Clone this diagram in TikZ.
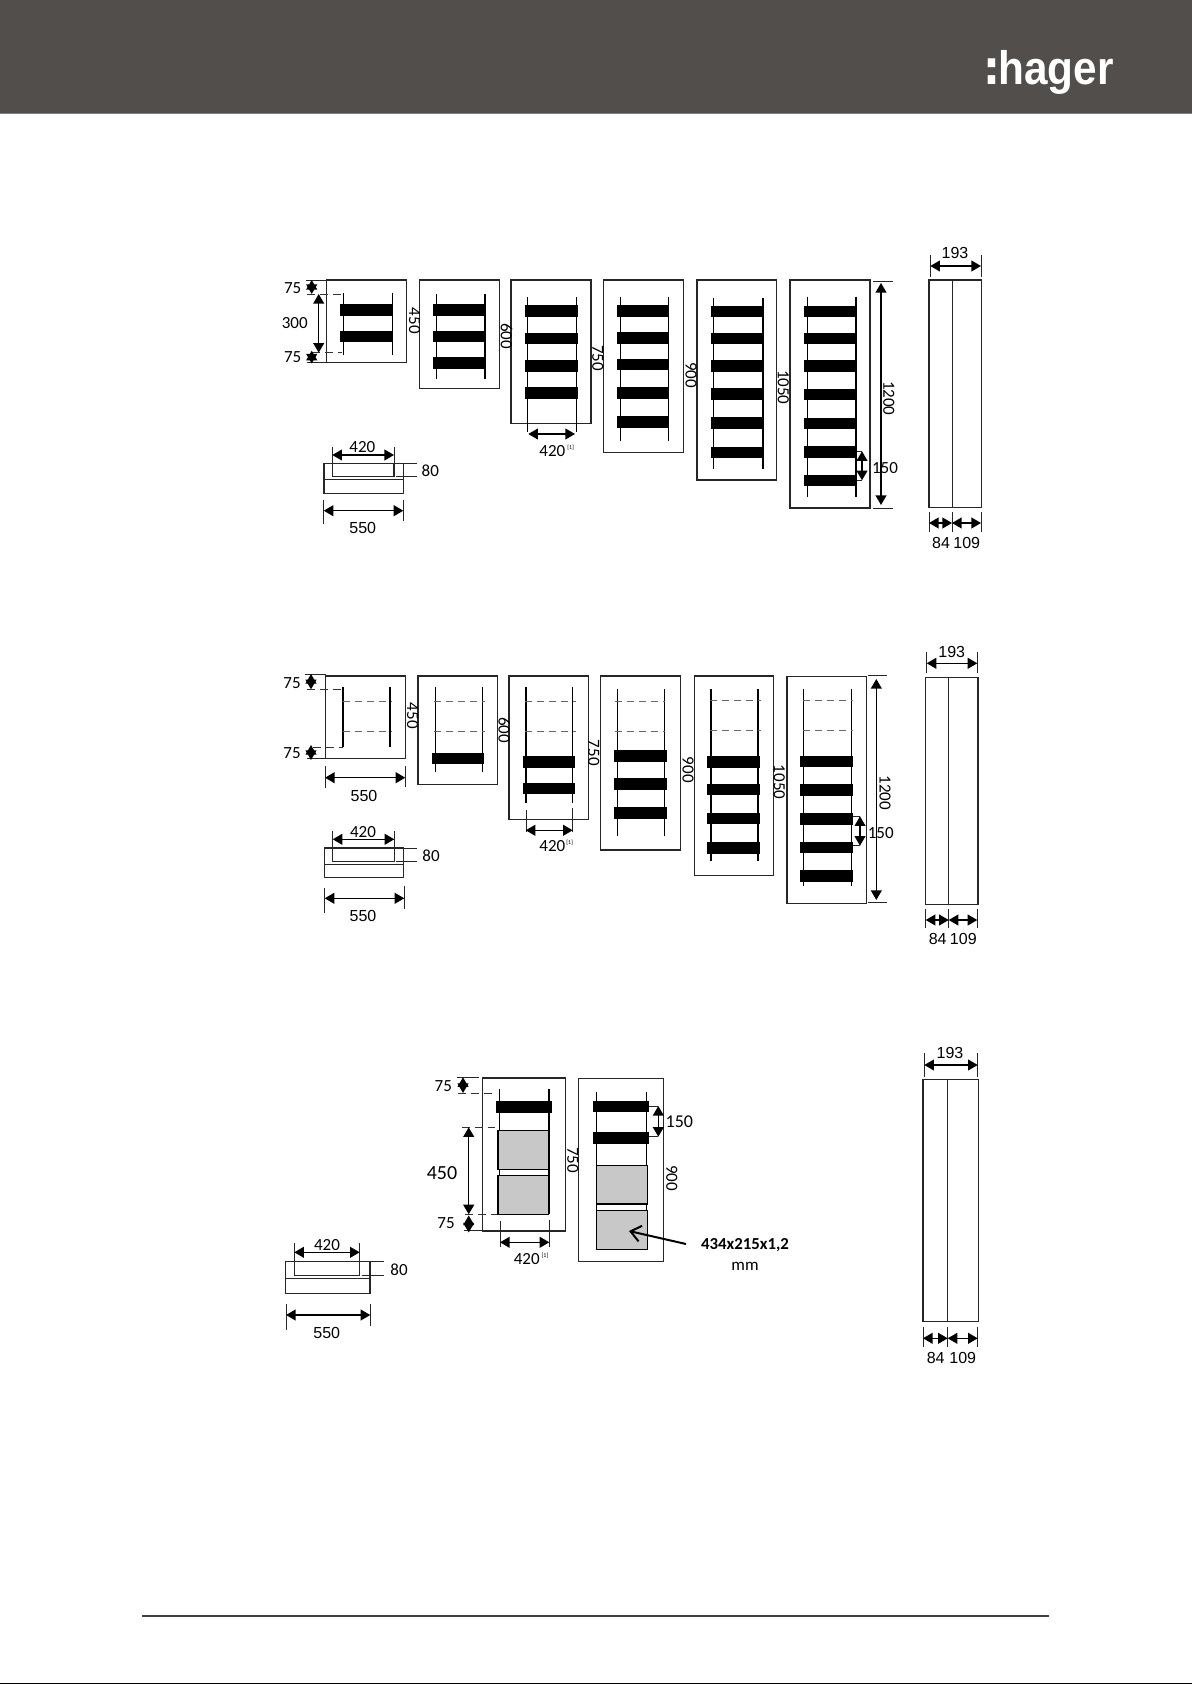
\documentclass[tikz,border=0pt]{standalone}
\usepackage{fontspec}
\setmainfont{Carlito}
\newfontfamily\arialfont{Liberation Sans}
\newfontfamily\logofont{Liberation Sans}
\newfontfamily\logocolon{DejaVu Sans}
\usetikzlibrary{arrows.meta}
\definecolor{headgrey}{HTML}{524E4C}
\definecolor{panelgrey}{HTML}{C8C8C8}
\tikzset{
  line/.style={draw=black!85,line width=0.55pt},
  rail/.style={draw=black,line width=0.6pt},
  guide/.style={draw=black!80,line width=0.4pt,dash pattern=on 4pt off 2.5pt},
  hidden/.style={draw=black!60,line width=0.4pt,dash pattern=on 3.5pt off 2.5pt},
  ext/.style={draw=black!85,line width=0.45pt},
  dima/.style={draw=black,line width=0.7pt,{Triangle[length=4.8pt,width=5.4pt]}-{Triangle[length=4.8pt,width=5.4pt]}},
  panel/.style={draw=black,line width=0.6pt,fill=panelgrey},
  lab/.style={inner sep=0pt,font=\fontsize{8.5}{9}\selectfont},
  labb/.style={inner sep=0pt,font=\arialfont\fontsize{8}{9}\selectfont},
  rot/.style={lab,rotate=-90},
  note/.style={inner sep=0pt,font=\fontsize{3}{3.5}\selectfont},
}
% bars: x1, x2, list of top edges
\newcommand\barsRow[3]{\foreach \yy in {#3}{\fill[black] (#1,\yy) rectangle (#2,\yy+11.7);}}
% section view: outer x1,x2, y1,y_mid,y2, inner x1,x2,y_in, 80 end
\newcommand\sectionView[9]{%
  \draw[line] (#1,#3) rectangle (#2,#5);
  \draw[line] (#1,#4) -- (#2,#4);
  \draw[line] (#6,#3) -- (#6,#8) -- (#7,#8) -- (#7,#3);
  \draw[ext] (#2,#3) -- (#9,#3);
  \draw[ext] (#7+2,#8) -- (#9,#8);
}
% box with two rails: x1,x2,y1,y2, rail xl,xr,yt,yb
\newcommand\cabinet[8]{%
  \draw[line] (#1,#3) rectangle (#2,#4);
  \draw[rail] (#5,#7) -- (#5,#8);
  \draw[rail] (#6,#7) -- (#6,#8);
}
% side view: x1,xm,x2,y1,y2
\newcommand\sideView[5]{%
  \draw[line] (#1,#4) rectangle (#3,#5);
  \draw[line] (#2,#4) -- (#2,#5);
}
\begin{document}
\begin{tikzpicture}[x=0.5pt,y=-0.5pt]
\useasboundingbox (0,0) rectangle (1192,1684);
\fill[white] (0,0) rectangle (1192,1684);
% header
\fill[headgrey] (0,0) rectangle (1192,113.2);
\fill[black!50] (0,113.2) rectangle (1192,114);
\node[anchor=base west,inner sep=0pt,text=white,xscale=0.9,transform shape] (logo) at (983,84.3)
  {\fontsize{23.5}{26}\selectfont{\logocolon\bfseries :}\hspace{-0.04em}{\logofont\bfseries hager}};
% footer
\fill[black!75] (142,1614.8) rectangle (1049,1616.8);
\fill[black] (0,1683) rectangle (1192,1684);

%% ---------- ROW 1 ----------
\cabinet{326.7}{406.7}{280}{362.7}{343.7}{392.7}{292.7}{355}
\barsRow{340}{393.3}{304.3,330.7}
\cabinet{419.3}{499.3}{280}{388.3}{436.7}{485}{294}{379.3}
\barsRow{433.3}{486}{304.3,330.7,357}
\cabinet{511}{591}{280}{423.7}{527.3}{576.7}{297.3}{432}
\barsRow{525}{577.7}{305.3,332.7,360,387}
\cabinet{603.3}{683.3}{280}{452.3}{620.3}{668.7}{296.7}{440.7}
\barsRow{616.7}{669.3}{305.3,332,358.7,387.3,416.3}
\cabinet{697}{776.7}{280}{480}{713.7}{763}{298}{469.3}
\barsRow{710.7}{763.7}{305.7,332.7,360.3,388,417,446.7}
\cabinet{790}{870}{280}{508}{807.3}{856}{296.7}{497.3}
\barsRow{803.7}{856.7}{305.7,332.7,360,388.7,417.7,446,474.7}
% left dims
\draw[ext] (306,280) -- (326.7,280);
\draw[ext] (307,362.7) -- (328,362.7);
\draw[guide] (307,294) -- (342,294);
\draw[guide] (312,352.7) -- (342,352.7);
\draw[dima] (311.7,280) -- (311.7,294);
\draw[dima] (318.7,294) -- (318.7,352.7);
\draw[dima] (311.7,350.7) -- (311.7,363.5);
\node[lab] (a1) at (292.7,288.3) {75};
\node[lab] (a2) at (294.7,322.7) {300};
\node[lab] (a3) at (292.7,356.7) {75};
\node[rot] (a4) at (414.5,320.7) {450};
\node[rot] (a5) at (506.5,336) {600};
\node[rot] (a6) at (597.7,358.3) {750};
\node[rot] (a7) at (691,375) {900};
\node[rot] (a8) at (783.3,387.3) {1050};
\node[rot] (a9) at (888.7,398.3) {1200};
% 420 below box 3
\draw[dima] (528.3,434) -- (575,434);
\node[lab] (a10) at (552.3,451.3) {420};
\node[note] (a11) at (570.7,447.7) {[1]};
% 150
\draw[ext] (856.7,451.3) -- (862,451.3);
\draw[ext] (856.7,480.3) -- (862,480.3);
\draw[dima] (862,451.3) -- (862,480.3);
\node[lab] (a12) at (885,468) {150};
% 1200
\draw[ext] (872.7,281) -- (892.7,281);
\draw[ext] (872.7,508) -- (892.7,508);
\draw[dima] (881,283) -- (881,505);
% side
\sideView{929}{952.3}{981.3}{280}{507.3}
\draw[ext] (930.3,255) -- (930.3,276.7);
\draw[ext] (981,255) -- (981,276.7);
\draw[dima] (930.3,266) -- (981,266);
\node[labb] (a13) at (955,253.3) {193};
\foreach \xx in {929,952,981}{\draw[ext] (\xx,512.3) -- (\xx,531.7);}
\draw[dima] (929,523) -- (952,523);
\draw[dima] (952,523) -- (981,523);
\node[labb] (a14) at (941,542.7) {84};
\node[labb] (a15) at (966.7,542.7) {109};
% section
\sectionView{324}{403.7}{463.3}{479.3}{493.3}{332.3}{394}{476.7}{417.3}
\draw[ext] (332.3,446.7) -- (332.3,463.3);
\draw[ext] (394,446.7) -- (394,463.3);
\draw[dima] (332.3,455) -- (394,455);
\node[lab] (a16) at (362.3,447.3) {420};
\node[lab] (a17) at (430.3,471) {80};
\draw[ext] (323.7,500) -- (323.7,524);
\draw[ext] (403.3,500) -- (403.3,520.5);
\draw[dima] (323.7,510.7) -- (403.3,510.7);
\node[labb] (a18) at (362.7,528.3) {550};

%% ---------- ROW 2 ----------
\cabinet{325.7}{405.3}{676}{758.3}{343}{390}{686.7}{747.3}
\draw[hidden] (343.3,701.7) -- (391.7,701.7);
\draw[hidden] (343.3,731.3) -- (391.7,731.3);
\cabinet{418}{497.7}{676}{784.3}{435.3}{482.3}{686.7}{771.7}
\draw[hidden] (434,701.7) -- (485,701.7);
\draw[hidden] (434,731.3) -- (485,731.3);
\barsRow{431.7}{484.3}{752.7}
\cabinet{509}{588.3}{676}{819.7}{526}{572.7}{686.7}{803}
\draw[hidden] (525,701.7) -- (575.7,701.7);
\draw[hidden] (525,731.3) -- (575.7,731.3);
\barsRow{522.7}{575.3}{756,782.7}
\draw[ext] (526,810) -- (526,832);
\draw[ext] (572.7,808) -- (572.7,832);
\cabinet{600.3}{680.3}{676}{850}{617.7}{664.7}{689.3}{835.7}
\draw[hidden] (615,701.7) -- (665,701.7);
\draw[hidden] (615,731.3) -- (665,731.3);
\barsRow{614}{666.7}{750,778.3,807.3}
\cabinet{694.3}{773.7}{676}{875.7}{711}{758}{689.3}{861.3}
\draw[hidden] (710,700.7) -- (760.7,700.7);
\draw[hidden] (710,730.3) -- (760.7,730.3);
\barsRow{707}{760.3}{756,783.7,812.7,842}
\cabinet{787}{866.3}{676.3}{903.3}{803.7}{851.7}{689.3}{886}
\draw[hidden] (803.3,700.3) -- (853.3,700.3);
\draw[hidden] (803.3,730) -- (853.3,730);
\barsRow{800.3}{852.7}{755.7,784.3,813.3,841.7,870}
% left dims
\draw[ext] (305,674) -- (325.7,674);
\draw[ext] (306.7,758.3) -- (325.7,758.3);
\draw[guide] (306.7,689.3) -- (341.7,689.3);
\draw[guide] (313,747.3) -- (342.7,747.3);
\draw[dima] (311,674) -- (311,689.3);
\draw[dima] (311,745) -- (311,760);
\node[lab] (b1) at (292,683.3) {75};
\node[lab] (b2) at (292,753.3) {75};
\draw[ext] (325,766) -- (325,788);
\draw[ext] (405.3,766) -- (405.3,787);
\draw[dima] (325,777.7) -- (405.3,777.7);
\node[labb] (b3) at (364,795.7) {550};
\node[rot] (b4) at (412.7,715.7) {450};
\node[rot] (b5) at (504.3,730) {600};
\node[rot] (b6) at (593.7,752.7) {750};
\node[rot] (b7) at (688,769.7) {900};
\node[rot] (b8) at (779.3,782) {1050};
\node[rot] (b9) at (885,792.7) {1200};
\draw[dima] (525.7,830.3) -- (572.7,830.3);
\node[lab] (b10) at (552.3,846) {420};
\node[note] (b11) at (569.7,842.7) {[1]};
\draw[ext] (852.7,816.3) -- (860,816.3);
\draw[ext] (852.7,845.7) -- (860,845.7);
\draw[dima] (860,816.3) -- (860,845.7);
\node[lab] (b12) at (880.7,833) {150};
\draw[ext] (868,675.7) -- (887.3,675.7);
\draw[ext] (868,902.7) -- (887.3,902.7);
\draw[dima] (876.3,679) -- (876.3,900);
\sideView{925.7}{948.7}{978}{677.3}{904.3}
\draw[ext] (926.7,652.3) -- (926.7,673.3);
\draw[ext] (977.3,652.3) -- (977.3,673.3);
\draw[dima] (926.7,663.3) -- (977.3,663.3);
\node[labb] (b13) at (951.7,652.3) {193};
\foreach \xx in {925.7,948.7,977.3}{\draw[ext] (\xx,909.3) -- (\xx,927.7);}
\draw[dima] (925.7,920) -- (948.7,920);
\draw[dima] (948.7,920) -- (977.3,920);
\node[labb] (b14) at (937.7,939.3) {84};
\node[labb] (b15) at (963.3,939.3) {109};
\sectionView{324.3}{403.7}{848}{864.3}{877.7}{332.7}{394.3}{861.3}{417.3}
\draw[ext] (332.7,831) -- (332.7,848);
\draw[ext] (394.3,831) -- (394.3,848);
\draw[dima] (332.7,839.3) -- (394.3,839.3);
\node[lab] (b16) at (363,832) {420};
\node[lab] (b17) at (431,855.7) {80};
\draw[ext] (324.7,888) -- (324.7,912.7);
\draw[ext] (404.3,886) -- (404.3,908.5);
\draw[dima] (324.7,898.3) -- (404.3,898.3);
\node[labb] (b18) at (363,915.7) {550};

%% ---------- ROW 3 ----------
\cabinet{482.3}{565.7}{1078}{1231}{499.3}{549}{1089.3}{1214.3}
\barsRow{496}{551.7}{1101.3}
\draw[panel] (498,1130.3) rectangle (548.7,1169.3);
\draw[panel] (498,1175.3) rectangle (548.7,1214.3);
\cabinet{578.7}{663.3}{1078.7}{1261.7}{596.7}{646.7}{1092.3}{1210.7}
\barsRow{593.3}{649}{1100.7,1132.3}
\draw[panel] (596.3,1165.7) rectangle (647.3,1204);
\draw[panel] (596.3,1210.7) rectangle (647.3,1249.3);
% left dims
\draw[ext] (456.7,1077.3) -- (479.3,1077.3);
\draw[ext] (464,1230.3) -- (486.7,1230.3);
\draw[guide] (458.3,1093) -- (495,1093);
\draw[guide] (461.7,1127.3) -- (495,1127.3);
\draw[guide] (465,1214.3) -- (497.3,1214.3);
\draw[dima] (463,1077.3) -- (463,1093);
\draw[dima] (468.7,1127.3) -- (468.7,1214.3);
\draw[dima] (468.7,1215.5) -- (468.7,1232.5);
\node[lab] (c1) at (443.3,1086) {75};
\node[lab,font=\fontsize{10}{11}\selectfont] (c2) at (442,1173.3) {450};
\node[lab] (c3) at (446,1223.3) {75};
\node[rot] (c4) at (572.7,1160) {750};
\node[rot] (c5) at (671.7,1178) {900};
\draw[ext] (500,1221) -- (500,1246.7);
\draw[ext] (549.3,1219.5) -- (549.3,1246.7);
\draw[dima] (500,1242.3) -- (549.3,1242.3);
\node[lab] (c6) at (526.7,1259.3) {420};
\node[note] (c7) at (545,1256) {[1]};
\draw[ext] (649,1106) -- (657.7,1106);
\draw[ext] (649,1136.7) -- (657.7,1136.7);
\draw[dima] (658.3,1106) -- (658.3,1136.7);
\node[lab,font=\fontsize{9}{10}\selectfont] (c8) at (679.3,1122) {150};
% leader
\node[lab,font=\bfseries\fontsize{8.4}{9}\selectfont] (c9) at (745,1244.7) {434x215x1,2};
\node[lab] (c10) at (745,1266) {mm};
\coordinate (leadfrom) at (686,1244);
\coordinate (leadto) at (629,1231);
\draw[draw=black,line width=1pt,-{Straight Barb[length=5pt,width=8pt]}] (leadfrom) -- (leadto);
% side
\sideView{923}{947.7}{978.3}{1079.3}{1321.3}
\draw[ext] (924.3,1053.3) -- (924.3,1076.7);
\draw[ext] (977.7,1053.3) -- (977.7,1076.7);
\draw[dima] (924.3,1065) -- (977.7,1065);
\node[labb] (c11) at (950,1052.7) {193};
\foreach \xx in {923,947.7,977.7}{\draw[ext] (\xx,1326.7) -- (\xx,1346.7);}
\draw[dima] (923,1338.3) -- (947.7,1338.3);
\draw[dima] (947.7,1338.3) -- (977.7,1338.3);
\node[labb] (c12) at (935.7,1358.3) {84};
\node[labb] (c13) at (962.7,1358.3) {109};
% section
\sectionView{285.7}{370}{1261.3}{1278.7}{1293.3}{294.3}{359.7}{1275.7}{384.3}
\draw[ext] (294.3,1243.3) -- (294.3,1261.3);
\draw[ext] (359.7,1243.3) -- (359.7,1261.3);
\draw[dima] (294.3,1252.3) -- (359.7,1252.3);
\node[lab] (c14) at (327,1244.7) {420};
\node[lab] (c15) at (399,1269.3) {80};
\draw[ext] (286,1304) -- (286,1330);
\draw[ext] (370.3,1304) -- (370.3,1326);
\draw[dima] (286,1315) -- (370.3,1315);
\node[labb] (c16) at (326.7,1333.3) {550};
\end{tikzpicture}
\end{document}
